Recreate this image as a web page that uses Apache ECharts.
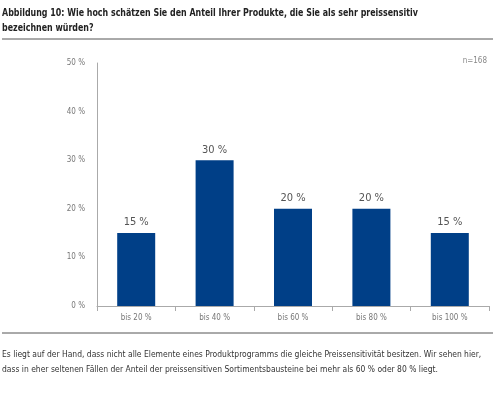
<!DOCTYPE html>
<html><head><meta charset="utf-8">
<script src="https://cdn.jsdelivr.net/npm/echarts@6/dist/echarts.min.js"></script>
<style>html,body{margin:0;padding:0;background:#fff}#c{width:495px;height:400px}</style>
</head><body><div id="c"></div>
<script>
const categories = ["bis 20 %","bis 40 %","bis 60 %","bis 80 %","bis 100 %"];
const values = [15,30,20,20,15];
const yTicks = [0,10,20,30,40,50];
const F = '"Liberation Sans Narrow","DejaVu Sans Condensed","Liberation Sans",sans-serif';
const chart = echarts.init(document.getElementById('c'));
chart.setOption({
  animation:false,
  textStyle:{fontFamily:F},
  grid:{left:97,right:6,top:63,bottom:94},
  xAxis:{type:'category',data:categories,
    axisLine:{lineStyle:{color:'#aaa'}},
    axisTick:{show:true,length:5,lineStyle:{color:'#aaa'}},
    axisLabel:{color:'#777',fontSize:8,fontFamily:F,margin:8}},
  yAxis:{type:'value',min:0,max:50,interval:10,
    axisLine:{show:true,lineStyle:{color:'#aaa'}},
    axisTick:{show:false},splitLine:{show:false},
    axisLabel:{color:'#777',fontSize:8,fontFamily:F,margin:12,formatter:v=>v+' %'}},
  series:[{type:'bar',data:values,barWidth:38,itemStyle:{color:'#003f87'},
    label:{show:true,position:'top',color:'#555',fontSize:11,fontFamily:F,distance:5,formatter:p=>p.value+' %'}}],
  graphic:[
    {type:'text',x:2,y:6,scaleX:0.8,style:{text:'Abbildung 10: Wie hoch schätzen Sie den Anteil Ihrer Produkte, die Sie als sehr preissensitiv\nbezeichnen würden?',font:'bold 11px '+F,fill:'#222',lineHeight:15}},
    {type:'line',shape:{x1:2,y1:39,x2:493,y2:39},style:{stroke:'#555',lineWidth:1}},
    {type:'text',right:8,top:57,style:{text:'n=168',font:'8px '+F,fill:'#888'}},
    {type:'line',shape:{x1:2,y1:333,x2:493,y2:333},style:{stroke:'#555',lineWidth:1}},
    {type:'text',x:2,y:347,scaleX:0.89,style:{text:'Es liegt auf der Hand, dass nicht alle Elemente eines Produktprogramms die gleiche Preissensitivität besitzen. Wir sehen hier,\ndass in eher seltenen Fällen der Anteil der preissensitiven Sortimentsbausteine bei mehr als 60 % oder 80 % liegt.',font:'9.5px '+F,fill:'#333',lineHeight:15}}
  ]
});
</script></body></html>
